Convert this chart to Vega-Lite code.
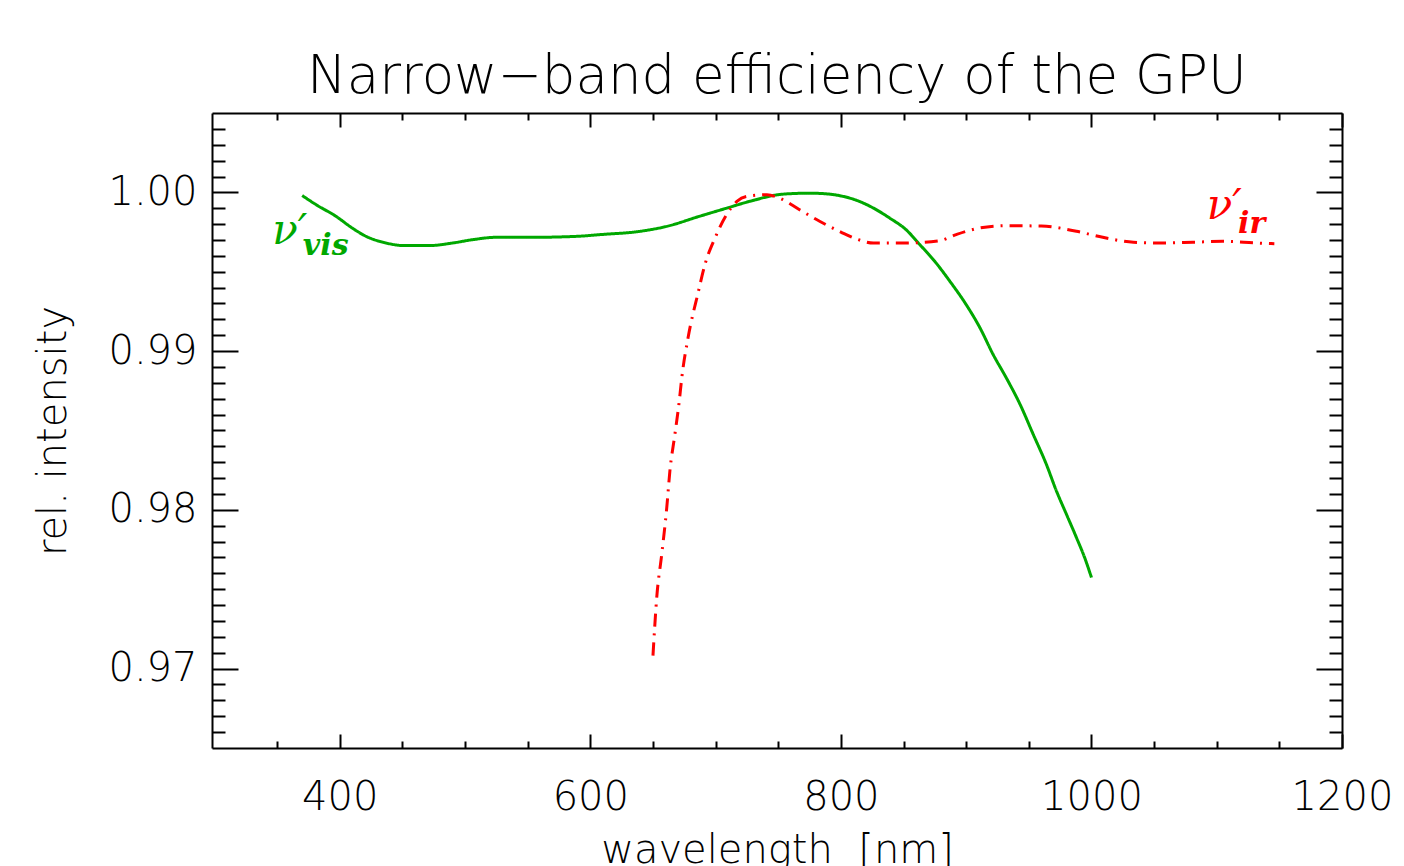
{
  "$schema": "https://vega.github.io/schema/vega-lite/v6.json",
  "width": 1130,
  "height": 635,
  "autosize": "none",
  "padding": {"left": 212, "top": 113, "right": 62, "bottom": 118},
  "background": "white",
  "title": {
    "text": "Narrow−band efficiency of the GPU",
    "font": "DejaVu Sans",
    "fontSize": 53,
    "fontWeight": 200,
    "color": "black",
    "anchor": "middle",
    "baseline": "alphabetic",
    "offset": -37
  },
  "config": {
    "view": {"stroke": null},
    "axis": {
      "domainColor": "black",
      "domainWidth": 2,
      "tickColor": "black",
      "tickWidth": 2,
      "grid": false,
      "labelFont": "DejaVu Sans",
      "labelFontSize": 40,
      "labelFontWeight": 200,
      "labelColor": "black",
      "titleFont": "DejaVu Sans",
      "titleFontSize": 40,
      "titleFontWeight": 200,
      "titleColor": "black"
    }
  },
  "datasets": {
    "curves": [
      {"series": "vis", "wl": 370, "v": 0.9998},
      {"series": "vis", "wl": 381, "v": 0.99923},
      {"series": "vis", "wl": 397, "v": 0.99849},
      {"series": "vis", "wl": 410, "v": 0.99775},
      {"series": "vis", "wl": 421, "v": 0.99723},
      {"series": "vis", "wl": 437, "v": 0.99681},
      {"series": "vis", "wl": 451, "v": 0.99665},
      {"series": "vis", "wl": 472, "v": 0.99665},
      {"series": "vis", "wl": 490, "v": 0.99681},
      {"series": "vis", "wl": 506, "v": 0.99702},
      {"series": "vis", "wl": 525, "v": 0.99717},
      {"series": "vis", "wl": 554, "v": 0.99717},
      {"series": "vis", "wl": 589, "v": 0.99723},
      {"series": "vis", "wl": 608, "v": 0.99734},
      {"series": "vis", "wl": 640, "v": 0.99755},
      {"series": "vis", "wl": 661, "v": 0.99786},
      {"series": "vis", "wl": 687, "v": 0.99849},
      {"series": "vis", "wl": 709, "v": 0.99901},
      {"series": "vis", "wl": 727, "v": 0.99943},
      {"series": "vis", "wl": 754, "v": 0.99989},
      {"series": "vis", "wl": 775, "v": 0.99995},
      {"series": "vis", "wl": 792, "v": 0.99988},
      {"series": "vis", "wl": 801, "v": 0.99976},
      {"series": "vis", "wl": 812.5, "v": 0.9995},
      {"series": "vis", "wl": 826, "v": 0.99901},
      {"series": "vis", "wl": 839, "v": 0.99838},
      {"series": "vis", "wl": 852, "v": 0.99765},
      {"series": "vis", "wl": 863, "v": 0.99671},
      {"series": "vis", "wl": 876, "v": 0.99555},
      {"series": "vis", "wl": 887, "v": 0.9944},
      {"series": "vis", "wl": 900, "v": 0.99293},
      {"series": "vis", "wl": 911, "v": 0.99147},
      {"series": "vis", "wl": 921.5, "v": 0.98979},
      {"series": "vis", "wl": 932, "v": 0.98832},
      {"series": "vis", "wl": 943, "v": 0.98665},
      {"series": "vis", "wl": 953.5, "v": 0.98476},
      {"series": "vis", "wl": 964, "v": 0.98287},
      {"series": "vis", "wl": 972, "v": 0.9812},
      {"series": "vis", "wl": 980, "v": 0.97973},
      {"series": "vis", "wl": 988, "v": 0.97826},
      {"series": "vis", "wl": 995, "v": 0.9769},
      {"series": "vis", "wl": 1000, "v": 0.97574},
      {"series": "ir", "wl": 650, "v": 0.97082},
      {"series": "ir", "wl": 653, "v": 0.97448},
      {"series": "ir", "wl": 657, "v": 0.97721},
      {"series": "ir", "wl": 661, "v": 0.98014},
      {"series": "ir", "wl": 663.5, "v": 0.98245},
      {"series": "ir", "wl": 667.5, "v": 0.98476},
      {"series": "ir", "wl": 671, "v": 0.98686},
      {"series": "ir", "wl": 673, "v": 0.98832},
      {"series": "ir", "wl": 678, "v": 0.99084},
      {"series": "ir", "wl": 686, "v": 0.99367},
      {"series": "ir", "wl": 691.5, "v": 0.99546},
      {"series": "ir", "wl": 699.5, "v": 0.99712},
      {"series": "ir", "wl": 708, "v": 0.99849},
      {"series": "ir", "wl": 717, "v": 0.99943},
      {"series": "ir", "wl": 725, "v": 0.99975},
      {"series": "ir", "wl": 741, "v": 0.99985},
      {"series": "ir", "wl": 751, "v": 0.99964},
      {"series": "ir", "wl": 767, "v": 0.99891},
      {"series": "ir", "wl": 783, "v": 0.99818},
      {"series": "ir", "wl": 800, "v": 0.9975},
      {"series": "ir", "wl": 813, "v": 0.99705},
      {"series": "ir", "wl": 826, "v": 0.99681},
      {"series": "ir", "wl": 852, "v": 0.99681},
      {"series": "ir", "wl": 879, "v": 0.99696},
      {"series": "ir", "wl": 892, "v": 0.99734},
      {"series": "ir", "wl": 911, "v": 0.99776},
      {"series": "ir", "wl": 932, "v": 0.9979},
      {"series": "ir", "wl": 960, "v": 0.99788},
      {"series": "ir", "wl": 988, "v": 0.99755},
      {"series": "ir", "wl": 1009, "v": 0.99717},
      {"series": "ir", "wl": 1033.5, "v": 0.99686},
      {"series": "ir", "wl": 1057, "v": 0.99681},
      {"series": "ir", "wl": 1081, "v": 0.99686},
      {"series": "ir", "wl": 1105, "v": 0.99692},
      {"series": "ir", "wl": 1132, "v": 0.99681},
      {"series": "ir", "wl": 1146, "v": 0.99677}
    ],
    "annots": [
      {"series": "vis", "part": "main", "ax": 346, "ay": 0.99673, "t": "ν′"},
      {"series": "vis", "part": "sub", "ax": 370.5, "ay": 0.99604, "t": "vis"},
      {"series": "ir", "part": "main", "ax": 1092, "ay": 0.9983, "t": "ν′"},
      {"series": "ir", "part": "sub", "ax": 1117, "ay": 0.99742, "t": "ir"}
    ]
  },
  "layer": [
    {
      "data": {"name": "curves"},
      "mark": {"type": "line", "strokeWidth": 3, "interpolate": "monotone"},
      "encoding": {
        "x": {
          "field": "wl",
          "type": "quantitative",
          "scale": {"domain": [298, 1200], "nice": false, "zero": false},
          "axis": {
            "orient": "bottom",
            "values": [350, 400, 450, 500, 550, 600, 650, 700, 750, 800, 850, 900, 950, 1000, 1050, 1100, 1150, 1200],
            "format": "d",
            "labelExpr": "datum.value % 200 === 0 ? datum.label : ''",
            "tickSize": {"condition": {"test": "datum.value % 200 === 0", "value": -14}, "value": -7},
            "labelPadding": 43,
            "labelOverlap": false,
            "labelFlush": false,
            "labelBound": false,
            "title": "wavelength\u00a0 [nm]",
            "titlePadding": 6
          }
        },
        "y": {
          "field": "v",
          "type": "quantitative",
          "scale": {"domain": [0.965, 1.005], "nice": false, "zero": false},
          "axis": {
            "orient": "left",
            "values": [0.966, 0.967, 0.968, 0.969, 0.97, 0.971, 0.972, 0.973, 0.974, 0.975, 0.976, 0.977, 0.978, 0.979, 0.98, 0.981, 0.982, 0.983, 0.984, 0.985, 0.986, 0.987, 0.988, 0.989, 0.99, 0.991, 0.992, 0.993, 0.994, 0.995, 0.996, 0.997, 0.998, 0.999, 1.0, 1.001, 1.002, 1.003, 1.004],
            "format": ".2f",
            "labelExpr": "abs(datum.value * 100 - round(datum.value * 100)) < 0.000001 ? datum.label : ''",
            "tickSize": {"condition": {"test": "abs(datum.value * 100 - round(datum.value * 100)) < 0.000001", "value": -26}, "value": -13},
            "labelPadding": 41,
            "labelOverlap": false,
            "labelFlush": false,
            "labelBound": false,
            "title": "rel. intensity",
            "titlePadding": 34
          }
        },
        "color": {"field": "series", "type": "nominal", "scale": {"domain": ["vis", "ir"], "range": ["#00a800", "#ff0000"]}, "legend": null},
        "strokeDash": {"field": "series", "type": "nominal", "scale": {"domain": ["vis", "ir"], "range": [[1, 0], [13, 7, 2, 7]]}, "legend": null}
      }
    },
    {
      "data": {"name": "annots"},
      "transform": [{"filter": "datum.part === 'main'"}],
      "mark": {"type": "text", "align": "left", "baseline": "alphabetic", "font": "DejaVu Serif", "fontStyle": "italic", "fontSize": 42},
      "encoding": {
        "x": {
          "field": "ax",
          "type": "quantitative",
          "scale": {"domain": [298, 1200], "nice": false, "zero": false},
          "axis": {
            "orient": "top",
            "values": [350, 400, 450, 500, 550, 600, 650, 700, 750, 800, 850, 900, 950, 1000, 1050, 1100, 1150, 1200],
            "labels": false,
            "tickSize": {"condition": {"test": "datum.value % 200 === 0", "value": -14}, "value": -7},
            "title": null
          }
        },
        "y": {
          "field": "ay",
          "type": "quantitative",
          "scale": {"domain": [0.965, 1.005], "nice": false, "zero": false},
          "axis": {
            "orient": "right",
            "values": [0.966, 0.967, 0.968, 0.969, 0.97, 0.971, 0.972, 0.973, 0.974, 0.975, 0.976, 0.977, 0.978, 0.979, 0.98, 0.981, 0.982, 0.983, 0.984, 0.985, 0.986, 0.987, 0.988, 0.989, 0.99, 0.991, 0.992, 0.993, 0.994, 0.995, 0.996, 0.997, 0.998, 0.999, 1.0, 1.001, 1.002, 1.003, 1.004],
            "labels": false,
            "tickSize": {"condition": {"test": "abs(datum.value * 100 - round(datum.value * 100)) < 0.000001", "value": -26}, "value": -13},
            "title": null
          }
        },
        "text": {"field": "t"},
        "color": {"field": "series", "type": "nominal", "scale": {"domain": ["vis", "ir"], "range": ["#00a800", "#ff0000"]}, "legend": null}
      }
    },
    {
      "data": {"name": "annots"},
      "transform": [{"filter": "datum.part === 'sub'"}],
      "mark": {"type": "text", "align": "left", "baseline": "alphabetic", "font": "DejaVu Serif", "fontStyle": "italic", "fontWeight": "bold", "fontSize": 30},
      "encoding": {
        "x": {"field": "ax", "type": "quantitative", "axis": null},
        "y": {"field": "ay", "type": "quantitative", "axis": null},
        "text": {"field": "t"},
        "color": {"field": "series", "type": "nominal", "scale": {"domain": ["vis", "ir"], "range": ["#00a800", "#ff0000"]}, "legend": null}
      }
    }
  ],
  "resolve": {"axis": {"x": "independent", "y": "independent"}}
}
